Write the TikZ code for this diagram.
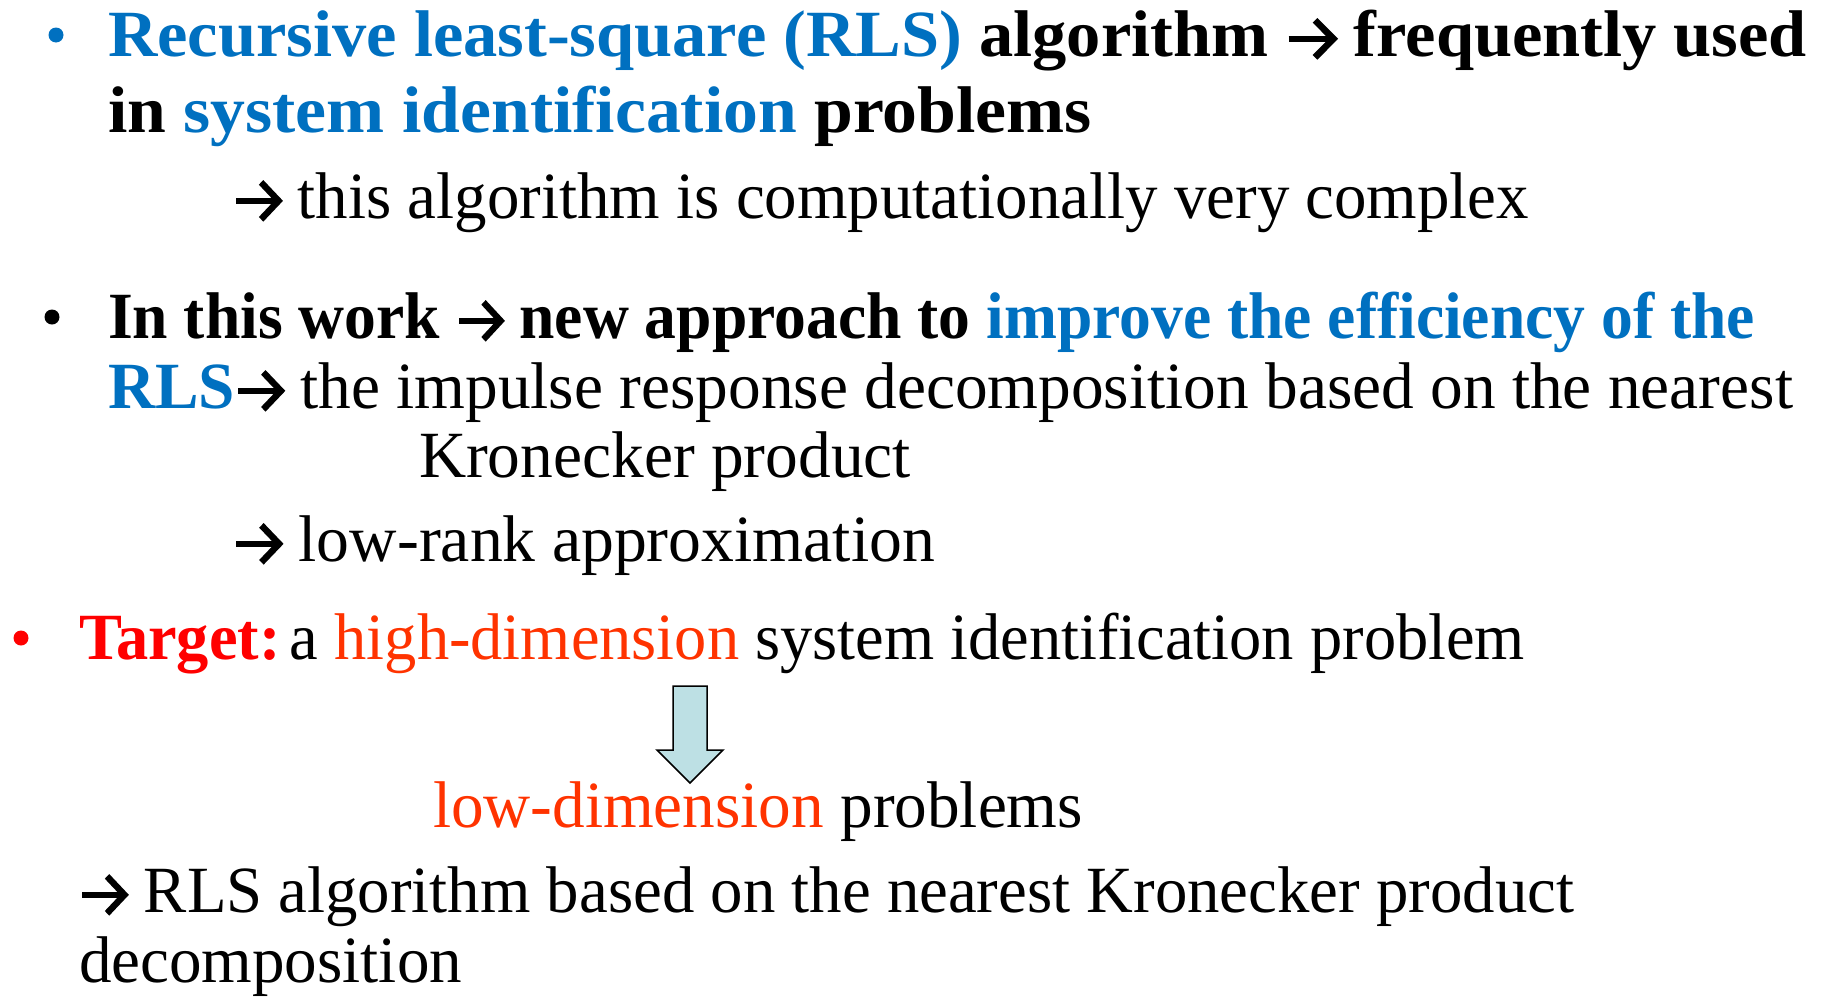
\documentclass[tikz,border=0pt]{standalone}
\usepackage{fontspec}
\usepackage{graphicx}
\setmainfont{Liberation Serif}[FakeStretch=1.04]
\definecolor{rlsblue}{RGB}{0,112,192}
\definecolor{hotred}{RGB}{255,0,0}
\definecolor{dimorange}{RGB}{255,51,0}
\definecolor{arrowfill}{RGB}{189,224,228}
% heavy right arrow with an open chevron head, sized to the current font
\newcommand\rarr{\tikz[x=1em,y=1em,baseline=0pt,line width=0.1em]{%
  \draw[line cap=butt] (0,0.26)--(0.66,0.26);
  \draw[line join=miter,line cap=butt] (0.40,0.54)--(0.68,0.26)--(0.40,-0.02);}}
% one text line set to a given width, height kept
\newcommand\fitline[2]{\resizebox{#1pt}{\height}{#2}}
\tikzset{
  txt/.style={anchor=base west,inner sep=0pt,outer sep=0pt,
    font=\fontsize{66}{78}\selectfont},
  bul/.style={circle,inner sep=0pt,minimum size=15pt},
}
\begin{document}
\begin{tikzpicture}[x=1pt,y=-1pt]
\useasboundingbox (0,0) rectangle (1826,996);
% first bullet
\node[bul,fill=rlsblue] (b1) at (56,35) {};
\node[txt] (l1) at (108,56) {\fitline{1699}{\bfseries\textcolor{rlsblue}{Recursive least-square (RLS)} algorithm \rarr{} frequently used}};
\node[txt] (l2) at (108,132) {\fitline{984}{\bfseries in \textcolor{rlsblue}{system identification} problems}};
\node[txt] (l3) at (233,218) {\fitline{1296}{\rarr{} this algorithm is computationally very complex}};
% second bullet
\node[bul,fill=black] (b2) at (52,317) {};
\node[txt] (l4) at (108,338) {\fitline{1647}{\bfseries In this work \rarr{} new approach to \textcolor{rlsblue}{improve the efficiency of the}}};
\node[txt] (l5) at (108,408) {\fitline{1685}{\textbf{\textcolor{rlsblue}{RLS}}\rarr{} the impulse response decomposition based on the nearest}};
\node[txt] (l6) at (419,477) {\fitline{492}{Kronecker product}};
\node[txt] (l7) at (233,561) {\fitline{702}{\rarr{} low-rank approximation}};
% third bullet
\node[bul,fill=hotred] (b3) at (21,638) {};
\node[txt] (l8) at (79,659) {\fitline{1446}{\textbf{\textcolor{hotred}{Target:}}\hspace{0.15em}a \textcolor{dimorange}{high-dimension} system identification problem}};
% block arrow
\filldraw[fill=arrowfill,draw=black,line width=1.5pt,line join=miter]
  (673,686) -- (707,686) -- (707,750) -- (723,750) -- (690,783)
  -- (657,750) -- (673,750) -- cycle;
\node[txt] (l9) at (433,827) {\fitline{650}{\textcolor{dimorange}{low-dimension} problems}};
\node[txt] (l10) at (79,912) {\fitline{1495}{\rarr{} RLS algorithm based on the nearest Kronecker product}};
\node[txt] (l11) at (79,982) {\fitline{383}{decomposition}};
\end{tikzpicture}
\end{document}
